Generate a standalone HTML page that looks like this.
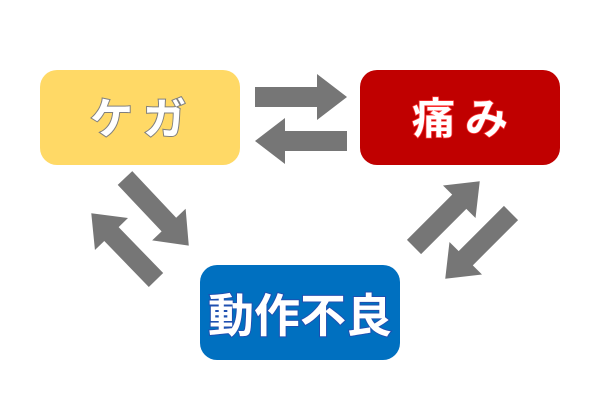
<!DOCTYPE html>
<html><head><meta charset="utf-8"><style>
html,body{margin:0;padding:0;background:#fff;}
svg{display:block}
text{font-family:"Liberation Sans","Noto Sans CJK JP",sans-serif;font-weight:bold;paint-order:stroke;text-anchor:middle}
</style></head><body>
<svg width="600" height="400" viewBox="0 0 600 400">
<defs>
<polygon id="ar" points="0,-10 62,-10 62,-23 92,0 62,23 62,10 0,10" fill="#767676"/>
<polygon id="ad" points="0,-10 64,-10 64,-23 93,0 64,23 64,10 0,10" fill="#767676"/>
</defs>
<rect x="40" y="70" width="200" height="95" rx="17" fill="#ffd966"/>
<rect x="360" y="70" width="200" height="95" rx="17" fill="#c00000"/>
<rect x="200" y="265" width="200" height="95" rx="17" fill="#0070c0"/>
<use href="#ar" transform="translate(255,97)"/>
<use href="#ar" transform="translate(347,141) rotate(180)"/>
<use href="#ad" transform="translate(125,178) rotate(46.7)"/>
<use href="#ad" transform="translate(156,280) rotate(225.9)"/>
<use href="#ad" transform="translate(414,247) rotate(-45)"/>
<use href="#ad" transform="translate(511,213) rotate(135)"/>
<text x="143" y="134" font-size="43" fill="#fff" stroke="#7f7f7f" stroke-width="2" letter-spacing="10">ケガ</text>
<text x="465" y="134" font-size="43" fill="#fff" stroke="#ff3333" stroke-width="1.5" letter-spacing="10">痛み</text>
<text x="300" y="332" font-size="46" fill="#fff" stroke="#1f4fb0" stroke-width="2">動作不良</text>
</svg>
</body></html>
